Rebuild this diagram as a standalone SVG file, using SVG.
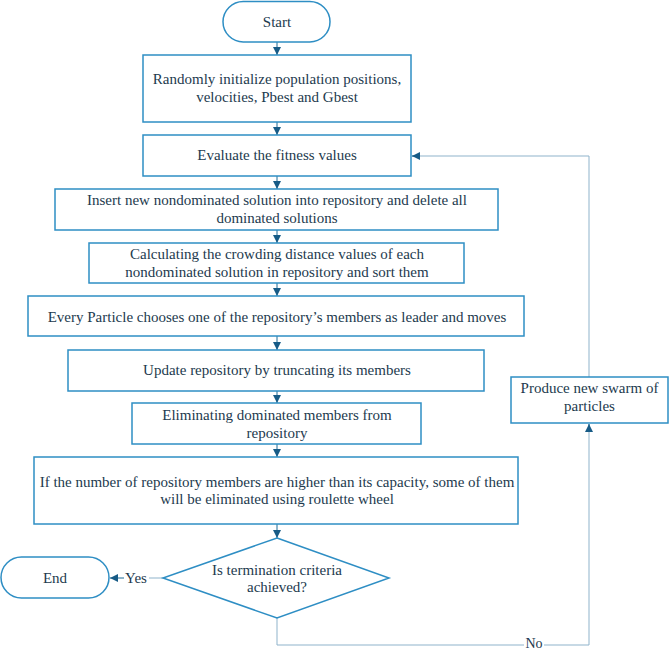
<svg xmlns="http://www.w3.org/2000/svg" width="669" height="651" viewBox="0 0 669 651">
<style>
.box{fill:#fff;stroke:#2e8ec4;stroke-width:1.5}
.t{font-family:'Liberation Serif','Times New Roman',Times,serif;font-size:15px;fill:#1d3a4e;text-anchor:middle}
.c{fill:none;stroke:#1d6a96;stroke-width:1}
.f{fill:none;stroke:#8fb3cb;stroke-width:1}
</style>
<defs>
<marker id="ah" viewBox="0 0 10 10" refX="10" refY="5" markerWidth="8" markerHeight="8" markerUnits="userSpaceOnUse" orient="auto">
<path d="M0,0 L10,5 L0,10 z" fill="#175b86"/>
</marker>
</defs>
<rect width="669" height="651" fill="#fff"/>
<g id="connectors">
<line class="c" x1="277" y1="42" x2="277" y2="55" marker-end="url(#ah)"/>
<line class="c" x1="277" y1="122" x2="277" y2="135" marker-end="url(#ah)"/>
<line class="c" x1="277" y1="176" x2="277" y2="189" marker-end="url(#ah)"/>
<line class="c" x1="277" y1="230" x2="277" y2="243" marker-end="url(#ah)"/>
<line class="c" x1="277" y1="283" x2="277" y2="296" marker-end="url(#ah)"/>
<line class="c" x1="277" y1="336" x2="277" y2="350" marker-end="url(#ah)"/>
<line class="c" x1="277" y1="391" x2="277" y2="403" marker-end="url(#ah)"/>
<line class="c" x1="277" y1="444" x2="277" y2="457" marker-end="url(#ah)"/>
<line class="c" x1="277" y1="524" x2="277" y2="538" marker-end="url(#ah)"/>
<line class="f" x1="163" y1="578" x2="149" y2="578"/>
<line class="c" x1="124" y1="578" x2="110" y2="578" marker-end="url(#ah)"/>
<text class="t" x="136" y="583">Yes</text>
<polyline class="f" points="277,618 277,645 524,645"/>
<text class="t" x="534" y="648" style="font-size:14px">No</text>
<polyline class="f" points="544,645 589,645 589,424"/>
<line class="c" x1="589" y1="432" x2="589" y2="424" marker-end="url(#ah)"/>
<polyline class="f" points="589,377 589,156 412,156"/>
<line class="c" x1="420" y1="156" x2="412" y2="156" marker-end="url(#ah)"/>
</g>
<g id="start">
<rect class="box" x="223" y="1.5" width="107" height="40.5" rx="20.25"/>
<text class="t" x="277" y="27">Start</text>
</g>
<g id="init">
<rect class="box" x="143" y="55" width="268" height="67"/>
<text class="t" x="277" y="84">Randomly initialize population positions,</text>
<text class="t" x="277" y="102">velocities, Pbest and Gbest</text>
</g>
<g id="evaluate">
<rect class="box" x="143" y="135" width="268" height="41"/>
<text class="t" x="277" y="160">Evaluate the fitness values</text>
</g>
<g id="insert">
<rect class="box" x="55" y="189" width="443" height="41"/>
<text class="t" x="277" y="205">Insert new nondominated solution into repository and delete all</text>
<text class="t" x="277" y="223">dominated solutions</text>
</g>
<g id="crowding">
<rect class="box" x="89" y="243" width="375" height="40"/>
<text class="t" x="277" y="259">Calculating the crowding distance values of each</text>
<text class="t" x="277" y="277">nondominated solution in repository and sort them</text>
</g>
<g id="leader">
<rect class="box" x="28" y="296" width="496" height="40"/>
<text class="t" x="277" y="322">Every Particle chooses one of the repository’s members as leader and moves</text>
</g>
<g id="update">
<rect class="box" x="68" y="350" width="416" height="41"/>
<text class="t" x="277" y="375">Update repository by truncating its members</text>
</g>
<g id="eliminate">
<rect class="box" x="132" y="403" width="289" height="41"/>
<text class="t" x="277" y="420">Eliminating dominated members from</text>
<text class="t" x="277" y="438">repository</text>
</g>
<g id="capacity">
<rect class="box" x="34" y="457" width="484" height="67"/>
<text class="t" x="277" y="487">If the number of repository members are higher than its capacity, some of them</text>
<text class="t" x="277" y="504">will be eliminated using roulette wheel</text>
</g>
<g id="decision">
<polygon class="box" points="277,538 389,578 277,618 163,578"/>
<text class="t" x="277" y="575">Is termination criteria</text>
<text class="t" x="277" y="592">achieved?</text>
</g>
<g id="end">
<rect class="box" x="1" y="557" width="108" height="41" rx="20.5"/>
<text class="t" x="55" y="583">End</text>
</g>
<g id="produce">
<rect class="box" x="511" y="377" width="157" height="46"/>
<text class="t" x="589.5" y="393">Produce new swarm of</text>
<text class="t" x="589.5" y="411">particles</text>
</g>
</svg>
